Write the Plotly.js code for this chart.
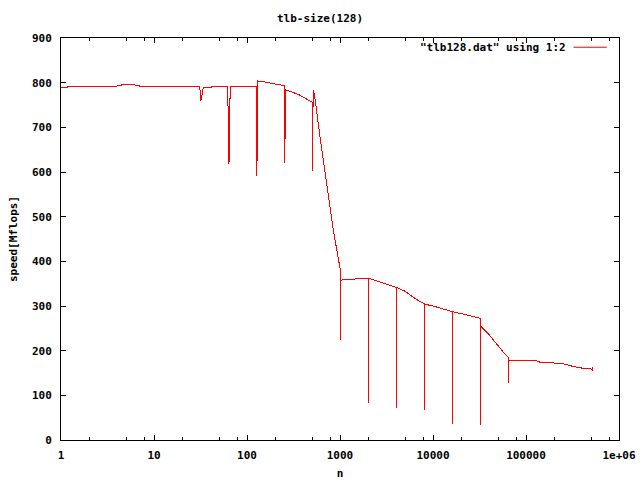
<!DOCTYPE html>
<html>
<head>
<meta charset="utf-8">
<script src="https://cdn.plot.ly/plotly-3.0.1.min.js"></script>
<style>html,body{margin:0;padding:0;background:#fff;}#chart{width:640px;height:480px;}
#chart path.js-line, #chart .xtick, #chart .ytick, #chart path.xlines-above, #chart path.ylines-above{shape-rendering:crispEdges;}</style>
</head>
<body>
<div id="chart"></div>
<script>
// data
const nValues = [1, 2, 3, 4, 5, 6, 7, 8, 16, 24, 31, 32, 33, 34, 40, 48, 56, 62, 63, 64, 65, 66, 80, 96, 112, 127, 128, 129, 150, 180, 220, 255, 256, 257, 315, 371, 439, 511, 512, 513, 530, 561, 609, 661, 719, 780, 847, 922, 1000, 1023, 1024, 1025, 1200, 1400, 1700, 2047, 2048, 2049, 2600, 3200, 4095, 4096, 4097, 5000, 6500, 8191, 8192, 8193, 10000, 13000, 16383, 16384, 16385, 20000, 26000, 32767, 32768, 32769, 40000, 50000, 58000, 65535, 65536, 65537, 131072, 140000, 250000, 280000, 330000, 400000, 500000, 524287, 524288];
const speed = [789.6, 792.5, 792.5, 792.5, 797, 795.5, 792.5, 792.5, 792.5, 792.5, 792.5, 760, 776, 790, 790, 792, 792.5, 792.5, 707, 617, 707, 792.5, 792.5, 792.5, 792.5, 792.5, 592, 804, 802, 799, 795.5, 793, 621, 784, 778, 772, 763, 756, 603, 784, 775, 731, 679, 627, 567, 522, 470, 425, 385, 358, 224, 358, 359, 360.5, 361.5, 362, 82, 362, 355, 348, 341, 72, 341, 333, 316, 304, 68, 304, 300, 293, 287, 36.5, 287, 283, 278, 272, 34, 254, 236, 210, 195, 183, 127, 177, 177, 174.5, 171, 168, 164, 161, 159, 155, 164];

const xTickVals = [1, 10, 100, 1000, 10000, 100000, 1000000];
const xTickText = ['1', '10', '100', '1000', '10000', '100000', '1e+06'];
const xMinorVals = [2, 5, 8, 20, 50, 80, 200, 500, 800, 2000, 5000, 8000, 20000, 50000, 80000, 200000, 500000, 800000];

const seriesName = '"tlb128.dat" using 1:2';
const chartTitle = 'tlb-size(128)';
const xLabel = 'n';
const yLabel = 'speed[Mflops]';

const fontFam = '"DejaVu Sans Mono", "Liberation Mono", monospace';
const baseFont = {family: fontFam, size: 11, color: '#000', weight: 'bold'};

const trace = {
  x: nValues,
  y: speed,
  type: 'scatter',
  mode: 'lines',
  name: seriesName,
  line: {color: '#ff0000', width: 1},
  showlegend: false
};

const layout = {
  width: 640,
  height: 480,
  paper_bgcolor: '#fff',
  plot_bgcolor: '#fff',
  margin: {l: 61, r: 21, t: 38, b: 40, pad: 0},
  font: baseFont,
  showlegend: false,
  title: {
    text: chartTitle,
    font: baseFont,
    xref: 'container', x: 0.5, xanchor: 'center',
    yref: 'container', y: 1 - 18 / 480, yanchor: 'middle'
  },
  xaxis: {
    type: 'log',
    range: [0, 6],
    tickmode: 'array',
    tickvals: xTickVals,
    ticktext: xTickText,
    ticks: 'inside',
    ticklen: 5,
    tickcolor: '#000',
    tickwidth: 1,
    minor: {tickmode: 'array', tickvals: xMinorVals, ticks: 'inside', ticklen: 3, tickcolor: '#000', tickwidth: 1, showgrid: false},
    showline: true,
    linecolor: '#000',
    linewidth: 1,
    mirror: 'ticks',
    showgrid: false,
    zeroline: false,
    tickfont: baseFont,
    ticklabelstandoff: 5,
    title: {text: xLabel, font: baseFont, standoff: 12}
  },
  yaxis: {
    range: [0, 900],
    tickmode: 'linear',
    tick0: 0,
    dtick: 100,
    ticks: 'inside',
    ticklen: 5,
    tickcolor: '#000',
    tickwidth: 1,
    showline: true,
    linecolor: '#000',
    linewidth: 1,
    mirror: 'ticks',
    showgrid: false,
    zeroline: false,
    tickfont: baseFont,
    ticklabelstandoff: 6,
    title: {text: yLabel, font: baseFont, standoff: 12}
  },
  annotations: [{
    text: seriesName,
    xref: 'paper', yref: 'paper',
    x: 0.908, y: 0.977,
    xanchor: 'right', yanchor: 'middle',
    showarrow: false,
    font: baseFont
  }],
  shapes: [{
    type: 'line',
    xref: 'paper', yref: 'paper',
    x0: 0.9185, x1: 0.978, y0: 0.977, y1: 0.977,
    line: {color: '#ff0000', width: 1}
  }]
};

Plotly.newPlot('chart', [trace], layout, {displayModeBar: false, staticPlot: true});
</script>
</body>
</html>
